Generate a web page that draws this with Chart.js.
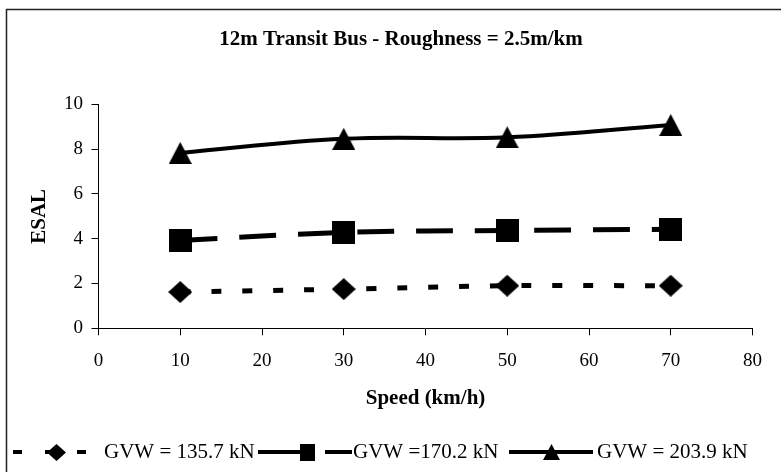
<!DOCTYPE html>
<html>
<head>
<meta charset="utf-8">
<script src="https://cdn.jsdelivr.net/npm/chart.js@4/dist/chart.umd.min.js"></script>
<style>
  html, body { margin: 0; padding: 0; background: #fff; }
  #wrap { width: 781px; height: 472px; position: relative; }
</style>
</head>
<body>
<div id="wrap"><canvas id="c" width="781" height="472"></canvas></div>
<script>
// Speeds at which ESAL was evaluated (km/h)
const speeds = [10, 30, 50, 70];
// ESAL per gross vehicle weight
const esal1357 = [1.62, 1.75, 1.90, 1.90];
const esal1702 = [3.92, 4.28, 4.37, 4.42];
const esal2039 = [7.83, 8.46, 8.53, 9.08];
const seriesNames = ['GVW = 135.7 kN', 'GVW =170.2 kN', 'GVW = 203.9 kN'];
const xTickValues = [0, 10, 20, 30, 40, 50, 60, 70, 80];
const yTickValues = [0, 2, 4, 6, 8, 10];
const chartTitle = '12m Transit Bus - Roughness = 2.5m/km';
const xTitle = 'Speed (km/h)';
const yTitle = 'ESAL';

const SERIF = "'Liberation Serif', 'Times New Roman', Times, serif";

// Solid black marker images, centred on the data point by their bounding box
function marker(shape, w, h) {
  const c = document.createElement('canvas');
  c.width = w; c.height = h;
  const g = c.getContext('2d');
  g.fillStyle = '#000';
  g.beginPath();
  if (shape === 'diamond') {
    g.moveTo(w / 2, 0); g.lineTo(w, h / 2); g.lineTo(w / 2, h); g.lineTo(0, h / 2);
  } else if (shape === 'square') {
    g.rect(0, 0, w, h);
  } else {
    g.moveTo(w / 2, 0); g.lineTo(w, h); g.lineTo(0, h);
  }
  g.closePath();
  g.fill();
  return c;
}

const pts = vals => speeds.map((s, i) => ({ x: s, y: vals[i] }));

const datasets = [
  { label: seriesNames[0], data: pts(esal1357), borderColor: '#000', borderWidth: 5,
    borderDash: [10, 21], borderCapStyle: 'butt', pointStyle: marker('diamond', 24, 22),
    legendDash: [9, 23], legendWidth: 4, legendMarker: marker('diamond', 19, 17) },
  { label: seriesNames[1], data: pts(esal1702), borderColor: '#000', borderWidth: 5,
    borderDash: [37, 22], borderCapStyle: 'butt', pointStyle: marker('square', 23, 23),
    legendDash: [45, 22], legendWidth: 4, legendMarker: marker('square', 15, 17) },
  { label: seriesNames[2], data: pts(esal2039), borderColor: '#000', borderWidth: 4,
    borderDash: [], pointStyle: marker('triangle', 23, 22),
    legendDash: [], legendWidth: 4, legendMarker: marker('triangle', 17, 16) }
];
datasets.forEach(d => { d.tension = 0.4; d.fill = false; d.pointRadius = 11; });

// Outer frame, title and bottom legend
const decorations = {
  id: 'decorations',
  afterDraw(chart) {
    const ctx = chart.ctx;
    ctx.save();
    ctx.strokeStyle = '#222';
    ctx.lineWidth = 1.5;
    ctx.strokeRect(6.5, 9.5, 820, 520);

    ctx.fillStyle = '#000';
    ctx.font = 'bold 21px ' + SERIF;
    ctx.textAlign = 'center';
    ctx.textBaseline = 'middle';
    ctx.fillText(chartTitle, 401, 40);

    const legendY = 452;
    const items = [
      { x0: 13, x1: 99, mx: 56, tx: 104 },
      { x0: 258, x1: 352, mx: 307.5, tx: 353 },
      { x0: 509, x1: 593, mx: 551, tx: 597 }
    ];
    ctx.font = '21px ' + SERIF;
    ctx.textAlign = 'left';
    chart.data.datasets.forEach((ds, i) => {
      const it = items[i];
      ctx.save();
      ctx.strokeStyle = ds.borderColor;
      ctx.lineWidth = ds.legendWidth;
      ctx.lineCap = 'butt';
      ctx.setLineDash(ds.legendDash);
      ctx.beginPath();
      ctx.moveTo(it.x0, legendY);
      ctx.lineTo(it.x1, legendY);
      ctx.stroke();
      ctx.restore();
      const m = ds.legendMarker;
      ctx.drawImage(m, Math.round(it.mx - m.width / 2), Math.round(legendY - m.height / 2));
      ctx.fillText(ds.label, it.tx, legendY);
    });
    ctx.restore();
  }
};

new Chart(document.getElementById('c'), {
  type: 'line',
  data: { datasets },
  plugins: [decorations],
  options: {
    responsive: false,
    animation: false,
    devicePixelRatio: 1,
    layout: { padding: { left: 27, right: 28.5, top: 104.3, bottom: 58.7 } },
    plugins: { legend: { display: false }, title: { display: false }, tooltip: { enabled: false } },
    scales: {
      x: {
        type: 'linear', min: 0, max: 80,
        afterFit: s => { s.height = 85; },
        afterBuildTicks: s => { s.ticks = xTickValues.map(v => ({ value: v })); },
        border: { display: true, color: '#000', width: 1 },
        grid: { drawOnChartArea: false, drawTicks: true, tickLength: 7, color: '#000', lineWidth: 1 },
        ticks: { color: '#000', padding: 14, maxRotation: 0, font: { family: SERIF, size: 19 } },
        title: { display: true, text: xTitle, color: '#000', padding: { top: 0, bottom: 2 },
                 font: { family: SERIF, size: 21, weight: 'bold' } }
      },
      y: {
        min: 0, max: 10,
        afterFit: s => { s.width = 71.5; },
        afterBuildTicks: s => { s.ticks = yTickValues.map(v => ({ value: v })); },
        border: { display: true, color: '#000', width: 1 },
        grid: { drawOnChartArea: false, drawTicks: true, tickLength: 7, color: '#000', lineWidth: 1 },
        ticks: { color: '#000', padding: 8.5, font: { family: SERIF, size: 19 } },
        title: { display: true, text: yTitle, color: '#000', padding: { top: 0, bottom: 0 },
                 font: { family: SERIF, size: 21, weight: 'bold' } }
      }
    }
  }
});
</script>
</body>
</html>
